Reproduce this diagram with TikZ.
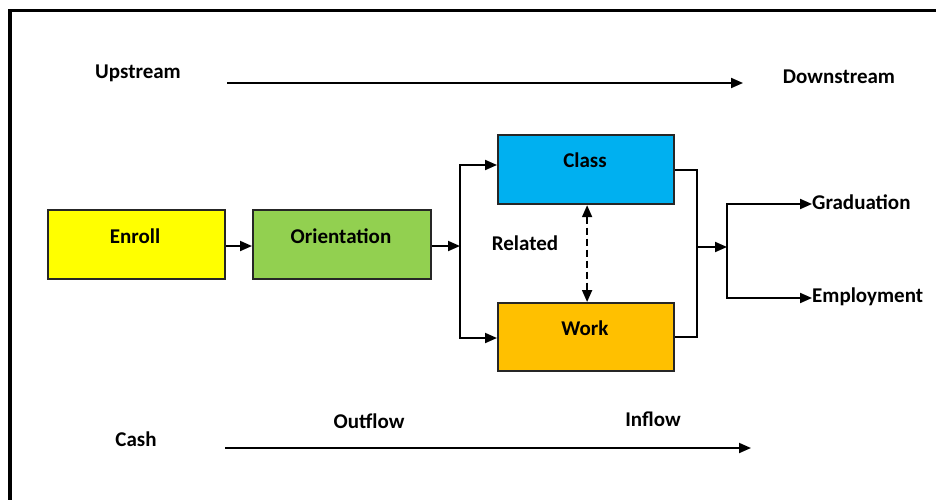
\documentclass[tikz,border=0pt]{standalone}
\usepackage{fontspec}
\setmainfont{Carlito}
\usetikzlibrary{arrows.meta}
\definecolor{cyellow}{HTML}{FFFF00}
\definecolor{cgreen}{HTML}{92D050}
\definecolor{cblue}{HTML}{00B0F0}
\definecolor{corange}{HTML}{FFC000}
\begin{document}
\begin{tikzpicture}[x=1pt,y=-1pt,
 box/.style={draw=black!85, line width=2.2pt, minimum height=69pt, inner sep=0pt, anchor=north west},
 lbl/.style={font=\bfseries\fontsize{21}{24}\selectfont, inner sep=0pt},
 arr/.style={line width=1.9pt, -{Triangle[length=12pt,width=10pt]}},
 ln/.style={line width=1.9pt},
]
\useasboundingbox (0,0) rectangle (936,500);
% frame
\draw[line width=3.4pt] (10,500) -- (10,10.5) -- (936,10.5);

% boxes
\node[box, fill=cyellow, minimum width=177pt] (enroll) at (47,209) {};
\node[box, fill=cgreen, minimum width=178pt] (orient) at (252,209) {};
\node[box, fill=cblue, minimum width=176pt] (class) at (497,134) {};
\node[box, fill=corange, minimum width=176pt, minimum height=68pt] (work) at (497,302) {};

% labels
\node[lbl] (tenroll) at (135,236) {Enroll};
\node[lbl] (torient) at (341,236) {Orientation};
\node[lbl] (tclass) at (585,160) {Class};
\node[lbl] (twork) at (585,328) {Work};
\node[lbl] (related) at (525,243) {Related};
\node[lbl] (up) at (138,73) {Upstream};
\node[lbl] (down) at (839,77) {Downstream};
\node[lbl] (cash) at (136,439) {Cash};
\node[lbl] (outflow) at (369,421) {Outflow};
\node[lbl] (inflow) at (653,419) {Inflow};
\node[lbl, anchor=west] (grad) at (812,202) {Graduation};
\node[lbl, anchor=west] (empl) at (812,297) {Employment};

% coordinates
\coordinate (us1) at (227,83);
\coordinate (us2) at (743,83);
\coordinate (cs1) at (225,448);
\coordinate (cs2) at (751,448);
\coordinate (j1) at (460,246);
\coordinate (jt) at (460,165);
\coordinate (jb) at (460,338);
\coordinate (kt) at (697,170);
\coordinate (kb) at (697,337);
\coordinate (k1) at (697,247);
\coordinate (m1) at (727,247);
\coordinate (gy) at (727,204);
\coordinate (ey) at (727,298);

% top / bottom arrows
\draw[arr] (us1) -- (us2);
\draw[arr] (cs1) -- (cs2);

% flow
\draw[arr] (enroll.east|-j1) -- (orient.west|-j1);
\draw[arr] (orient.east|-j1) -- (j1);
\draw[arr] (j1) |- (class.west|-jt);
\draw[arr] (j1) |- (work.west|-jb);
\draw[ln] (class.east|-kt) -| (kb) -- (work.east|-kb);
\draw[arr] (k1) -- (m1);
\draw[arr] (m1) |- (grad.west|-gy);
\draw[arr] (m1) |- (empl.west|-ey);

% related
\draw[line width=1.9pt, dash pattern=on 7pt off 4pt, {Triangle[length=12pt,width=10pt]}-{Triangle[length=12pt,width=10pt]}] ([xshift=1pt]class.south) -- ([xshift=1pt]work.north);
\end{tikzpicture}
\end{document}
